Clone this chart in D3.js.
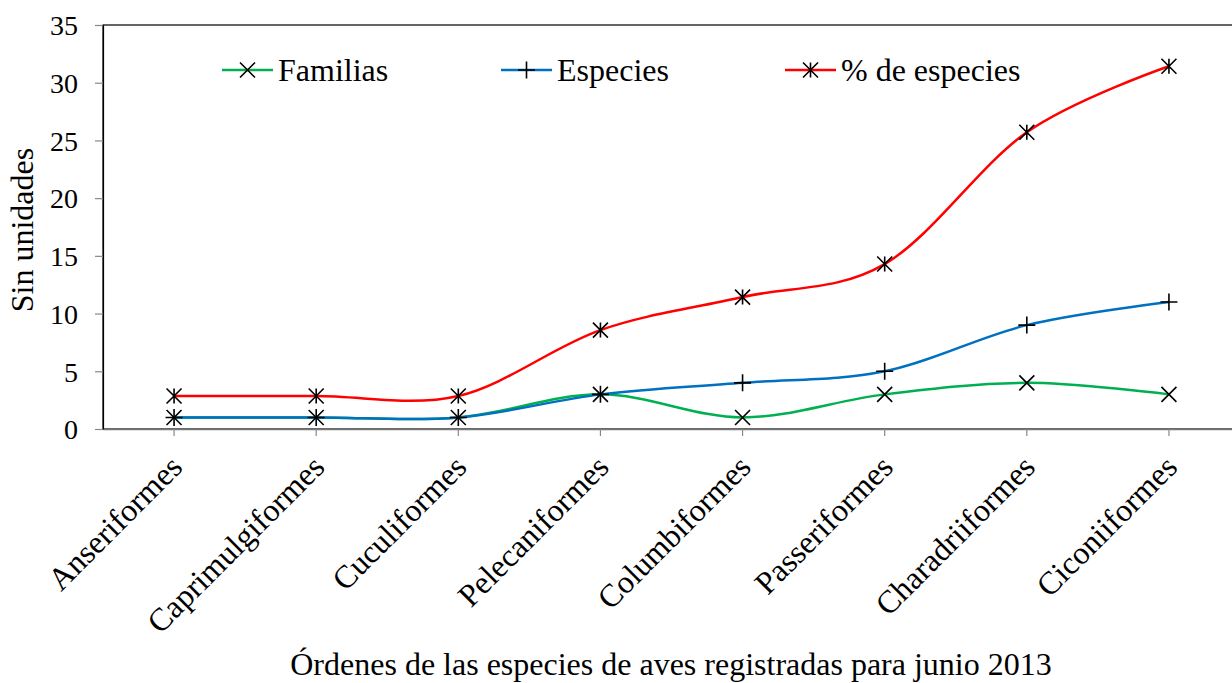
<!DOCTYPE html>
<meta charset="utf-8">
<head>
    <title>Órdenes de aves</title>
    <script src="https://d3js.org/d3.v7.min.js"></script>
</head>
<style>
    body { margin: 0; background: #fff; }
    text { font-family: "Liberation Serif", "Times New Roman", serif; fill: #000; }
</style>
<body>
<script>
    // datos
    var ordenes = ["Anseriformes", "Caprimulgiformes", "Cuculiformes", "Pelecaniformes",
        "Columbiformes", "Passeriformes", "Charadriiformes", "Ciconiiformes"];
    var familias = [1, 1, 1, 3, 1, 3, 4, 3];
    var especies = [1, 1, 1, 3, 4, 5, 9, 11];
    var porcEspecies = [2.86, 2.86, 2.86, 8.57, 11.43, 14.29, 25.71, 31.43];
    var yTicks = [0, 5, 10, 15, 20, 25, 30, 35];

    var width = 1232, height = 683;
    var pLeft = 103, pTop = 25, pRight = 1240, pBottom = 429;

    var svg = d3.select("body").append("svg")
        .attr("width", width)
        .attr("height", height);

    var x = d3.scaleBand().domain(ordenes).range([pLeft, pRight]);
    var y = d3.scaleLinear().domain([0, 35]).range([pBottom, pTop]);

    // marco del area de trazado
    svg.append("rect")
        .attr("x", pLeft).attr("y", pTop)
        .attr("width", pRight - pLeft).attr("height", pBottom - pTop)
        .attr("fill", "none").attr("stroke", "#000").attr("stroke-width", 1.2);

    // eje y
    var yAxis = svg.append("g")
        .attr("transform", "translate(" + pLeft + ",0)")
        .call(d3.axisLeft(y).tickValues(yTicks).tickSize(8).tickPadding(17));
    yAxis.select(".domain").attr("stroke", "#000").attr("stroke-width", 1.2);
    yAxis.selectAll(".tick line").attr("stroke", "#888").attr("stroke-width", 1.2);
    yAxis.selectAll("text")
        .style("font-size", "28px").style("font-family", "Liberation Serif")
        .attr("x", -25).attr("dy", "0.35em");

    // eje x
    var xAxis = svg.append("g")
        .attr("transform", "translate(0," + pBottom + ")")
        .call(d3.axisBottom(x).tickSize(7).tickSizeOuter(0));
    xAxis.select(".domain").attr("stroke", "#777").attr("stroke-width", 1.5);
    xAxis.selectAll(".tick line").attr("stroke", "#888").attr("stroke-width", 1.2);
    xAxis.selectAll("text")
        .style("font-size", "32px").style("font-family", "Liberation Serif")
        .attr("text-anchor", "end")
        .attr("dy", 0).attr("y", 0).attr("x", 0)
        .attr("transform", "translate(10,40) rotate(-45)");

    // titulos de ejes
    svg.append("text")
        .attr("transform", "translate(33," + ((pTop + pBottom) / 2 + 3) + ") rotate(-90)")
        .attr("text-anchor", "middle")
        .style("font-size", "32px")
        .text("Sin unidades");

    svg.append("text")
        .attr("x", 671).attr("y", 675)
        .attr("text-anchor", "middle")
        .style("font-size", "32px")
        .text("Órdenes de las especies de aves registradas para junio 2013");

    var series = [
        { nombre: "Familias", valores: familias, color: "#00B050", marca: "x", lx: 222 },
        { nombre: "Especies", valores: especies, color: "#0070C0", marca: "+", lx: 501 },
        { nombre: "% de especies", valores: porcEspecies, color: "#FF0000", marca: "*", lx: 785 }
    ];

    var linea = d3.line()
        .x(function (d, i) { return x(ordenes[i]) + x.bandwidth() / 2; })
        .y(function (d) { return y(d); })
        .curve(d3.curveCardinal.tension(0));

    function marcaPath(tipo, s) {
        var a = s / 2;
        var xs = "M" + (-a) + "," + (-a) + "L" + a + "," + a + "M" + (-a) + "," + a + "L" + a + "," + (-a);
        var mas = "M" + (-a) + ",0L" + a + ",0M0," + (-a) + "L0," + a;
        if (tipo === "x") return xs;
        if (tipo === "+") return mas;
        return xs + "M0," + (-a) + "L0," + a;
    }

    series.forEach(function (s) {
        svg.append("path")
            .datum(s.valores)
            .attr("d", linea)
            .attr("fill", "none")
            .attr("stroke", s.color)
            .attr("stroke-width", 2.5);
    });

    series.forEach(function (s) {
        svg.selectAll(null)
            .data(s.valores)
            .enter().append("path")
            .attr("transform", function (d, i) {
                return "translate(" + (x(ordenes[i]) + x.bandwidth() / 2) + "," + y(d) + ")";
            })
            .attr("d", marcaPath(s.marca, s.marca === "+" ? 17 : 15))
            .attr("stroke", "#000")
            .attr("stroke-width", 1.6)
            .attr("fill", "none");
    });

    // leyenda
    var ly = 70;
    series.forEach(function (s) {
        var g = svg.append("g").attr("transform", "translate(" + s.lx + "," + ly + ")");
        g.append("line").attr("x1", 0).attr("x2", 51).attr("y1", 0).attr("y2", 0)
            .attr("stroke", s.color).attr("stroke-width", 2.5);
        g.append("path").attr("transform", "translate(25.5,0)")
            .attr("d", marcaPath(s.marca, s.marca === "+" ? 17 : 15))
            .attr("stroke", "#000").attr("stroke-width", 1.6).attr("fill", "none");
        g.append("text").attr("x", 56).attr("y", 0).attr("dy", "0.35em")
            .style("font-size", "32px").text(s.nombre);
    });
</script>
</body>
</html>
